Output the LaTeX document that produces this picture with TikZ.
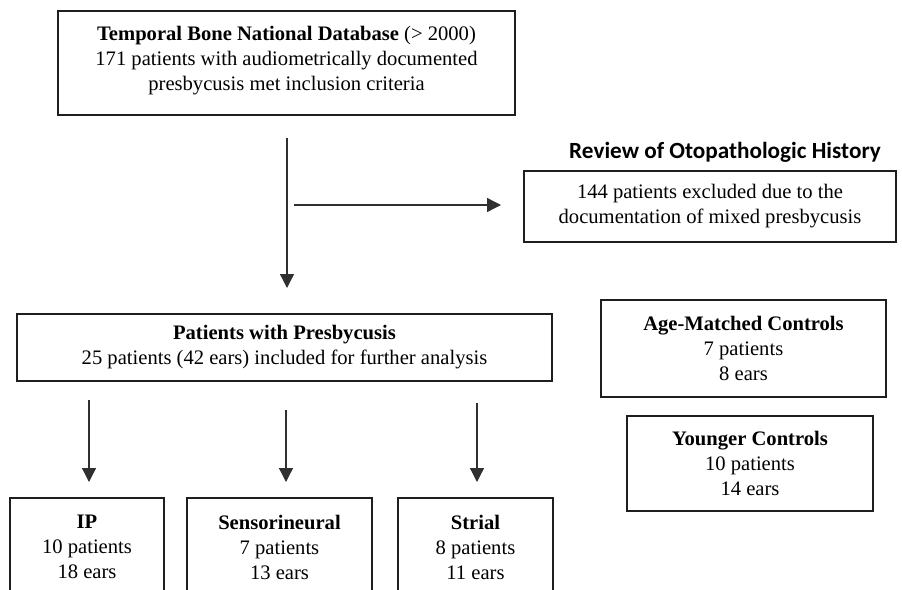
\documentclass[tikz,border=0pt]{standalone}
\usepackage{fontspec}
\setmainfont{Liberation Serif}
\newfontfamily\headfont{Carlito}
\usetikzlibrary{arrows.meta,positioning}
\usepackage{xcolor}
\definecolor{Ink}{HTML}{1E1E1E}
\definecolor{ArrowGray}{HTML}{303030}

\tikzset{
  box/.style={draw=Ink,line width=1.8pt,align=center,inner sep=0pt,
    font=\fontsize{20.6}{25}\selectfont,text=black},
  arr/.style={draw=ArrowGray,line width=1.3pt,-{Triangle[width=14pt,length=14pt]}},
}

\begin{document}
\begin{tikzpicture}[x=1pt,y=-1pt]
  \useasboundingbox (0,0) rectangle (902,589);
  \clip (0,0) rectangle (902,589);

  % screening
  \node[box,minimum width=457pt,minimum height=104pt] (db) at (286.5,63)
    {\textbf{Temporal Bone National Database} (> 2000)\\
     171 patients with audiometrically documented\\
     presbycusis met inclusion criteria\rule[-10pt]{0pt}{10pt}};
  \node[font=\headfont\bfseries\fontsize{23.2}{28}\selectfont] (rev) at (725,152)
    {Review of Otopathologic History};
  \node[box,minimum width=372pt,minimum height=71pt] (excl) at (710,206.5)
    {144 patients excluded due to the\\documentation of mixed presbycusis};

  \coordinate (split) at (287,138);
  \coordinate (keep) at (287,288);
  \coordinate (side) at (294,205);
  \coordinate (drop) at (501,205);
  \draw[arr] (split) -- (keep);
  \draw[arr] (side) -- (drop);

  % included
  \node[box,minimum width=535pt,minimum height=67pt] (pres) at (284.5,347.5)
    {\textbf{Patients with Presbycusis}\\25 patients (42 ears) included for further analysis};

  % controls
  \node[box,minimum width=285pt,minimum height=97pt] (age) at (743.5,348.5)
    {\textbf{Age-Matched Controls}\\7 patients\\8 ears};
  \node[box,minimum width=246pt,minimum height=95pt] (young) at (750,463.5)
    {\textbf{Younger Controls}\\10 patients\\14 ears};

  % subtypes
  \foreach \nm/\cx/\bw/\ax/\ay/\lbl/\pts/\ears in
    {ip/87/154/89/400/IP/10/18,sn/279.5/185/286/410/Sensorineural/7/13,st/475.5/155/477/403/Strial/8/11}{
    \coordinate (\nm-from) at (\ax,\ay);
    \coordinate (\nm-to) at (\ax,482);
    \draw[arr] (\nm-from) -- (\nm-to);
    \node[box,minimum width=\bw,minimum height=98pt] (\nm) at (\cx,547)
      {\textbf{\lbl}\\\pts\ patients\\\ears\ ears};
  }
\end{tikzpicture}
\end{document}
